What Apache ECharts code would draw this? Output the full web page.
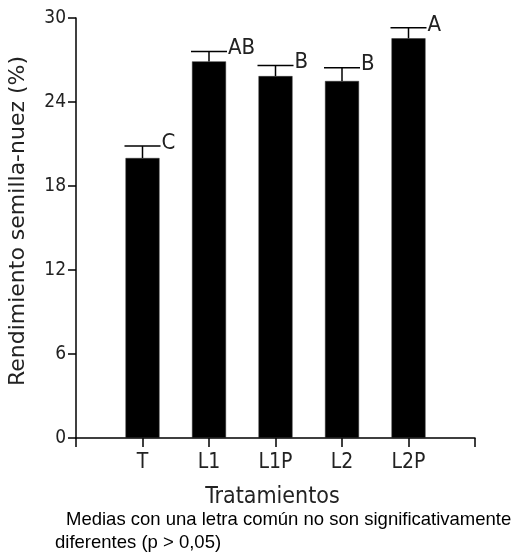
<!DOCTYPE html>
<html>
<head>
<meta charset="utf-8">
<script src="https://cdn.jsdelivr.net/npm/echarts@6/dist/echarts.min.js"></script>
<style>html,body{margin:0;padding:0;background:#fff;}#c{width:519px;height:552px;}</style>
</head>
<body>
<div id="c"></div>
<script>
const categories = ['T', 'L1', 'L1P', 'L2', 'L2P'];
const means = [20.0, 26.9, 25.85, 25.5, 28.55];
const errors = [0.85, 0.7, 0.75, 0.95, 0.75];
const letters = ['C', 'AB', 'B', 'B', 'A'];
const yTicks = [0, 6, 12, 18, 24, 30];
const yName = 'Rendimiento semilla-nuez (%)';
const xName = 'Tratamientos';
const note1 = 'Medias con una letra común no son significativamente';
const note2 = 'diferentes (p > 0,05)';

const barData = categories.map((c, i) => [i + 1, means[i]]);
const errData = categories.map((c, i) => [i + 1, means[i], errors[i]]);
const NARROW = '"DejaVu Sans Condensed", "Liberation Sans Narrow", "Arial Narrow", sans-serif';

const chart = echarts.init(document.getElementById('c'));
chart.setOption({
  animation: false,
  backgroundColor: '#fff',
  grid: { left: 76, right: 44, top: 18, bottom: 114, containLabel: false, outerBoundsMode: 'none' },
  xAxis: {
    type: 'value', min: 0, max: categories.length + 1, interval: 1,
    name: xName, nameLocation: 'middle', nameGap: 48,
    nameTextStyle: { fontFamily: NARROW, fontSize: 23, color: '#222', padding: [0, 6, 0, 0] },
    axisLine: { show: true, lineStyle: { color: '#000', width: 1.5 } },
    axisTick: { show: true, length: 9, lineStyle: { color: '#000', width: 1.5 } },
    axisLabel: {
      margin: 14, fontFamily: NARROW, fontSize: 21, color: '#222',
      formatter: v => categories[v - 1] || '', showMinLabel: true, showMaxLabel: true
    },
    splitLine: { show: false }
  },
  yAxis: {
    type: 'value', min: yTicks[0], max: yTicks[yTicks.length - 1], interval: yTicks[1] - yTicks[0],
    name: yName, nameLocation: 'middle', nameGap: 47, nameRotate: 90,
    nameTextStyle: { fontFamily: 'DejaVu Sans', fontSize: 22, color: '#222', padding: [0, 0, 0, 14] },
    axisLine: { show: true, lineStyle: { color: '#000', width: 1.5 } },
    axisTick: { show: true, length: 8, lineStyle: { color: '#000', width: 1.5 } },
    axisLabel: { margin: 10, fontFamily: NARROW, fontSize: 19, color: '#222' },
    splitLine: { show: false }
  },
  series: [
    {
      type: 'bar', data: barData, barWidth: 34,
      itemStyle: { color: '#000', borderColor: '#333', borderWidth: 0.5 }
    },
    {
      type: 'custom', data: errData, clip: false, z: 5,
      renderItem: (params, api) => {
        const x = api.value(0), v = api.value(1), e = api.value(2);
        const p0 = api.coord([x, v]);
        const p1 = api.coord([x, v + e]);
        const hw = 18;
        const ls = { stroke: '#000', lineWidth: 1.5 };
        return {
          type: 'group',
          children: [
            { type: 'line', shape: { x1: p0[0], y1: p0[1], x2: p1[0], y2: p1[1] }, style: ls },
            { type: 'line', shape: { x1: p1[0] - hw, y1: p1[1], x2: p1[0] + hw, y2: p1[1] }, style: ls },
            { type: 'text', style: {
                x: p1[0] + hw + 1, y: p1[1] - 3, text: letters[params.dataIndex],
                fill: '#222', font: '22px ' + NARROW, align: 'left', verticalAlign: 'middle'
              } }
          ]
        };
      }
    }
  ],
  graphic: [
    { type: 'text', left: 66, top: 510, style: { text: note1, fill: '#000', font: '18.5px "Liberation Sans"' } },
    { type: 'text', left: 55, top: 533, style: { text: note2, fill: '#000', font: '18.5px "Liberation Sans"' } }
  ]
});
</script>
</body>
</html>
